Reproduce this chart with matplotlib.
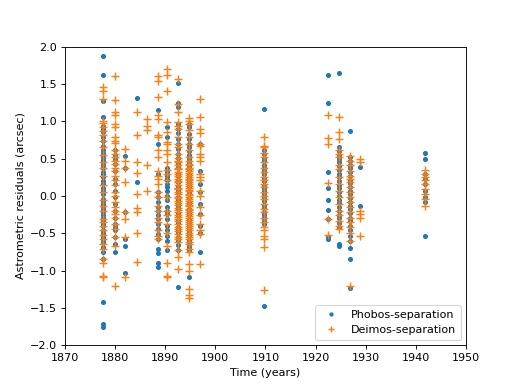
import matplotlib
matplotlib.use("Agg")
import matplotlib.pyplot as plt

# observation epochs (years)
epochs = [1877.6, 1880.0, 1882.1, 1884.3, 1886.3, 1888.5, 1890.3, 1892.5,
          1894.8, 1897.0, 1909.7, 1922.5, 1924.7, 1926.9, 1928.9, 1941.7]

# Phobos-separation residuals per epoch (arcsec)
p1877 = [1.87, 1.62, 1.27, 1.06, 0.94, 0.90, 0.85, 0.79, 0.74, 0.67, 0.61, 0.58,
         0.52, 0.48, 0.45, 0.42, 0.38, 0.32, 0.29, 0.25, 0.20, 0.16, 0.11, 0.07,
         0.03, -0.04, -0.07, -0.11, -0.14, -0.17, -0.22, -0.26, -0.29, -0.33,
         -0.37, -0.40, -0.46, -0.50, -0.55, -0.58, -0.62, -0.69, -0.75, -0.84,
         -1.42, -1.72, -1.75]
p1880 = [0.61, 0.55, 0.50, 0.43, 0.34, 0.23, 0.16, 0.07, -0.02, -0.11, -0.20,
         -0.29, -0.38, -0.42, -0.46, -0.55, -0.64, -0.75]
p1882 = [0.53, 0.38, -0.21, -0.58, -0.67, -1.03]
p1884 = [1.31, 0.18]
p1886 = []
p1888 = [1.15, 0.70, 0.29, 0.05, -0.02, -0.08, -0.15, -0.20, -0.26, -0.31,
         -0.38, -0.44, -0.51, -0.58, -0.71, -0.77, -0.90, -0.95]
p1890 = [0.92, 0.79, 0.38, 0.32, 0.27, 0.23, 0.21, 0.16, 0.12, 0.07, 0.00,
         -0.06, -0.15, -0.20, -0.24, -0.31, -0.40, -0.46, -0.53, -0.60, -0.73]
p1892 = [1.51, 1.25, 1.19, 0.96, 0.90, 0.84, 0.76, 0.70, 0.63, 0.56, 0.51, 0.46,
         0.41, 0.37, 0.31, 0.27, 0.22, 0.18, 0.13, 0.08, 0.04, -0.01, -0.06,
         -0.09, -0.14, -0.18, -0.23, -0.27, -0.32, -0.36, -0.41, -0.45, -0.50,
         -0.55, -0.60, -0.66, -0.73, -1.22]
p1894 = [0.96, 0.92, 0.83, 0.76, 0.70, 0.65, 0.60, 0.55, 0.49, 0.44, 0.40, 0.35,
         0.30, 0.26, 0.21, 0.16, 0.12, 0.07, 0.02, -0.03, -0.08, -0.12, -0.17,
         -0.22, -0.26, -0.31, -0.35, -0.40, -0.45, -0.49, -0.54, -0.59, -0.64,
         -0.68, -0.73, -1.09]
p1897 = [0.70, 0.34, 0.16, 0.05, -0.11, -0.24, -0.40, -0.49, -0.75]
p1909 = [1.16, 0.61, 0.56, 0.51, 0.47, 0.42, 0.38, 0.33, 0.29, 0.24, 0.20, 0.15,
         0.11, 0.06, 0.02, -0.03, -0.07, -0.12, -0.16, -0.21, -0.25, -0.30,
         -0.34, -0.38, -1.47]
p1922 = [1.62, 1.24, 0.32, 0.11, -0.06, -0.19, -0.31, -0.55, -0.57]
p1924 = [1.64, 0.65, 0.60, 0.55, 0.50, 0.45, 0.40, 0.35, 0.30, 0.25, 0.20, 0.15,
         0.10, 0.05, 0.00, -0.05, -0.10, -0.15, -0.20, -0.25, -0.30, -0.36,
         -0.42, -0.64, -0.67]
p1926 = [0.87, 0.52, 0.47, 0.42, 0.37, 0.32, 0.27, 0.22, 0.17, 0.12, 0.07, 0.02,
         -0.03, -0.08, -0.13, -0.18, -0.23, -0.29, -0.34, -0.40, -0.46, -0.53,
         -0.60, -0.70, -0.84, -1.23]
p1928 = [0.39, -0.13]
p1941 = [0.57, 0.49, 0.29, 0.23, 0.16, 0.07, -0.02, -0.08, -0.54]

# Deimos-separation residuals per epoch (arcsec)
d1877 = [1.46, 1.41, 1.30, 1.01, 0.97, 0.92, 0.87, 0.81, 0.73, 0.65, 0.55, 0.46,
         0.38, 0.27, 0.14, 0.05, -0.06, -0.13, -0.20, -0.31, -0.35, -0.40,
         -0.46, -0.52, -0.58, -0.64, -0.71, -0.84, -0.90, -1.07, -1.09]
d1880 = [1.60, 1.28, 1.12, 1.08, 0.96, 0.92, 0.79, 0.74, 0.71, 0.61, 0.56, 0.52,
         0.47, 0.43, 0.38, 0.34, 0.27, 0.21, 0.14, 0.05, 0.00, -0.08, -0.15,
         -0.20, -0.24, -0.29, -0.38, -0.44, -0.55, -0.67, -1.20]
d1882 = [0.63, 0.47, 0.38, 0.18, -0.21, -0.31, -0.55, -1.08]
d1884 = [1.12, 0.82, 0.46, 0.31, 0.03, -0.16, -0.22, -0.50, -0.88]
d1886 = [1.03, 0.94, 0.88, 0.41, 0.07]
d1888 = [1.61, 1.54, 1.33, 1.08, 1.03, 0.81, 0.79, 0.61, 0.52, 0.34, 0.27, 0.23,
         0.16, 0.05, -0.02, -0.13, -0.20, -0.29, -0.35, -0.46, -0.53, -0.58]
d1890 = [1.70, 1.62, 1.41, 0.99, 0.86, 0.72, 0.70, 0.61, 0.56, 0.45, 0.35, 0.29,
         0.21, -0.02, -0.20, -0.26, -0.38, -0.49, -0.67, -0.90, -1.07, -1.09]
d1892 = [1.57, 1.23, 1.12, 0.99, 0.94, 0.90, 0.79, 0.70, 0.65, 0.56, 0.51, 0.47,
         0.45, 0.41, 0.38, 0.36, 0.32, 0.29, 0.27, 0.23, 0.20, 0.18, 0.14, 0.11,
         0.09, 0.05, 0.02, -0.01, -0.03, -0.07, -0.10, -0.12, -0.16, -0.19,
         -0.21, -0.25, -0.28, -0.31, -0.34, -0.37, -0.41, -0.44, -0.47, -0.51,
         -0.55, -0.58, -0.62, -0.73, -0.82, -0.98]
d1894 = [1.05, 1.01, 0.96, 0.88, 0.79, 0.70, 0.61, 0.52, 0.47, 0.43, 0.41, 0.38,
         0.36, 0.33, 0.31, 0.28, 0.26, 0.23, 0.21, 0.18, 0.16, 0.13, 0.11, 0.08,
         0.06, 0.03, 0.01, -0.02, -0.04, -0.07, -0.09, -0.12, -0.14, -0.17,
         -0.19, -0.22, -0.24, -0.27, -0.30, -0.32, -0.35, -0.38, -0.40, -0.43,
         -0.46, -0.49, -0.52, -0.55, -0.58, -0.61, -0.64, -0.71, -0.75, -0.91,
         -1.00, -1.25, -1.33, -1.36]
d1897 = [1.30, 1.06, 0.90, 0.84, 0.70, 0.67, 0.56, 0.52, 0.47, 0.29, 0.25, 0.21,
         0.07, 0.00, -0.15, -0.26, -0.38, -0.46, -0.51, -0.91]
d1909 = [0.79, 0.67, 0.65, 0.58, 0.52, 0.45, 0.38, 0.32, 0.25, 0.21, 0.16, 0.12,
         0.05, 0.00, -0.04, -0.11, -0.17, -0.22, -0.29, -0.35, -0.42, -0.46,
         -0.53, -0.58, -0.68, -1.26]
d1922 = [1.08, 0.77, 0.70, 0.17, -0.31, -0.52]
d1924 = [1.06, 0.86, 0.76, 0.61, 0.56, 0.52, 0.41, 0.36, 0.25, 0.16, 0.07, -0.02,
         -0.11, -0.20, -0.26, -0.33, -0.40, -0.44]
d1926 = [0.53, 0.47, 0.41, 0.34, 0.27, 0.23, 0.18, 0.12, 0.05, -0.02, -0.08,
         -0.15, -0.22, -0.29, -0.35, -0.42, -0.50, -0.60, -1.20]
d1928 = [0.50, 0.45, -0.20, -0.24, -0.29, -0.54]
d1941 = [0.35, 0.29, 0.25, 0.21, 0.16, 0.09, 0.03, -0.04, -0.13]

phobos = [p1877, p1880, p1882, p1884, p1886, p1888, p1890, p1892,
          p1894, p1897, p1909, p1922, p1924, p1926, p1928, p1941]
deimos = [d1877, d1880, d1882, d1884, d1886, d1888, d1890, d1892,
          d1894, d1897, d1909, d1922, d1924, d1926, d1928, d1941]

px, py, dx, dy = [], [], [], []
for t, p, d in zip(epochs, phobos, deimos):
    px += [t] * len(p)
    py += p
    dx += [t] * len(d)
    dy += d

fig = plt.figure(figsize=(518 / 80, 388 / 80), dpi=80)
ax = fig.add_subplot(1, 1, 1)
ax.plot(px, py, '.', color='C0', markersize=7, label='Phobos-separation')
ax.plot(dx, dy, '+', color='C1', markersize=7, markeredgewidth=1.3,
        label='Deimos-separation')
ax.set_xlim(1870, 1950)
ax.set_ylim(-2.0, 2.0)
ax.set_xlabel('Time (years)')
ax.set_ylabel('Astrometric residuals (arcsec)')
ax.legend(loc='lower right', markerscale=0.8)
fig.savefig('out.png', dpi=80)
